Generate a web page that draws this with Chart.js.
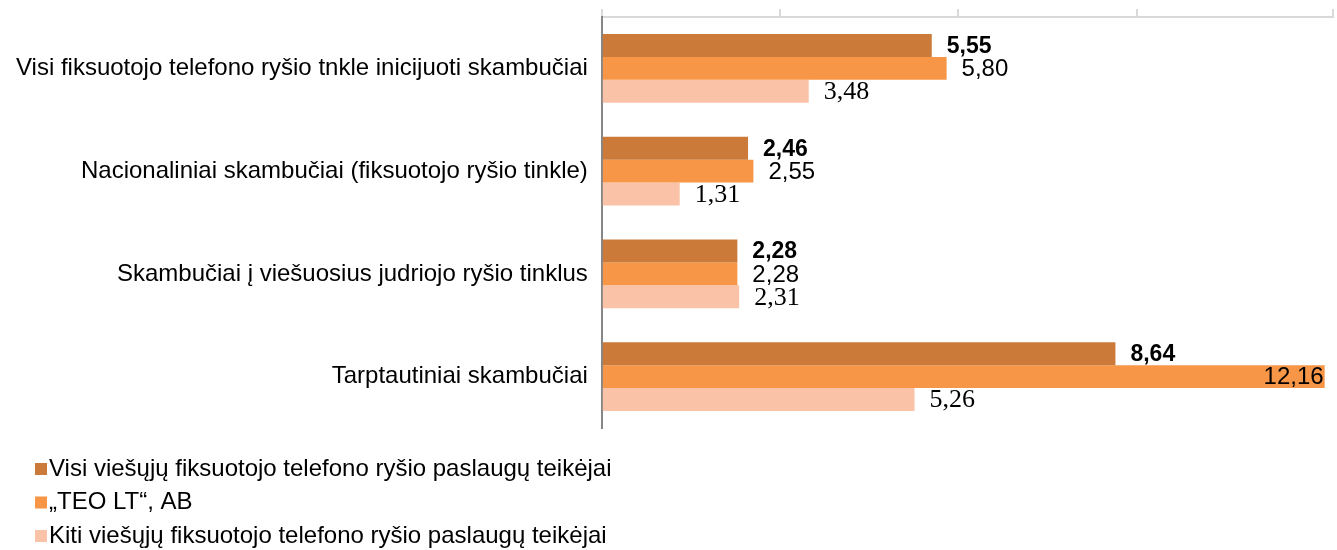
<!DOCTYPE html>
<html lang="lt">
<head>
<meta charset="UTF-8">
<title>Skambučių kainos</title>
<script src="https://cdn.jsdelivr.net/npm/chart.js@4.4.1/dist/chart.umd.min.js"></script>
<style>
  html, body { margin: 0; padding: 0; background: #fff; }
  #wrap { width: 1337px; height: 550px; position: relative; }
</style>
</head>
<body>
<div id="wrap"><canvas id="myChart" width="1337" height="550"></canvas></div>
<script>
// categories (top to bottom)
var categories = [
    'Visi fiksuotojo telefono ryšio tnkle inicijuoti skambučiai',
    'Nacionaliniai skambučiai (fiksuotojo ryšio tinkle)',
    'Skambučiai į viešuosius judriojo ryšio tinklus',
    'Tarptautiniai skambučiai'
];
var seriesNames = [
    'Visi viešųjų fiksuotojo telefono ryšio paslaugų teikėjai',
    '„TEO LT“, AB',
    'Kiti viešųjų fiksuotojo telefono ryšio paslaugų teikėjai'
];
var allProviders = [5.55, 2.46, 2.28, 8.64];
var teo = [5.80, 2.55, 2.28, 12.16];
var others = [3.48, 1.31, 2.31, 5.26];

var colors = ['#CC7A39', '#F79646', '#FAC3A8'];
var labelFonts = [
    'bold 23px "Liberation Sans", Arial, sans-serif',
    '24px "Liberation Sans", Arial, sans-serif',
    '26px "Liberation Serif", "Times New Roman", serif'
];

function fmt(v) {
    return v.toFixed(2).replace('.', ',');
}

// value labels next to each bar end
var valueLabels = {
    id: 'valueLabels',
    afterDatasetsDraw: function(chart) {
        var ctx = chart.ctx;
        var area = chart.chartArea;
        ctx.save();
        ctx.fillStyle = '#000';
        ctx.textBaseline = 'middle';
        chart.data.datasets.forEach(function(ds, i) {
            var meta = chart.getDatasetMeta(i);
            ctx.font = labelFonts[i];
            meta.data.forEach(function(bar, j) {
                var txt = fmt(ds.data[j]);
                var w = ctx.measureText(txt).width;
                if (bar.x + 14 + w > area.right) {
                    ctx.textAlign = 'right';
                    ctx.fillText(txt, bar.x - 1, bar.y + 1);
                } else {
                    ctx.textAlign = 'left';
                    ctx.fillText(txt, bar.x + 15, bar.y + 1);
                }
            });
        });
        ctx.restore();
    }
};

// legend listed one item per row under the plot
var listLegend = {
    id: 'listLegend',
    afterDraw: function(chart) {
        var ctx = chart.ctx;
        ctx.save();
        ctx.font = '24px "Liberation Sans", Arial, sans-serif';
        ctx.textBaseline = 'middle';
        ctx.textAlign = 'left';
        chart.data.datasets.forEach(function(ds, i) {
            var y = 469 + i * 33.5;
            ctx.fillStyle = ds.backgroundColor;
            ctx.fillRect(35, y - 6, 12, 12);
            ctx.fillStyle = '#000';
            ctx.fillText(ds.label, 49, y);
        });
        ctx.restore();
    }
};

var ctx = document.getElementById('myChart').getContext('2d');
var myChart = new Chart(ctx, {
    type: 'bar',
    data: {
        labels: categories,
        datasets: [
            { label: seriesNames[0], data: allProviders, backgroundColor: colors[0] },
            { label: seriesNames[1], data: teo, backgroundColor: colors[1] },
            { label: seriesNames[2], data: others, backgroundColor: colors[2] }
        ]
    },
    options: {
        indexAxis: 'y',
        responsive: false,
        animation: false,
        datasets: {
            bar: { barPercentage: 1, categoryPercentage: 0.67 }
        },
        layout: { padding: { top: 9, right: 4, bottom: 122, left: 2 } },
        plugins: {
            legend: { display: false },
            tooltip: { enabled: false }
        },
        scales: {
            x: {
                position: 'top',
                min: 0,
                max: 12.3,
                ticks: { display: false, stepSize: 3 },
                grid: { drawOnChartArea: false, tickLength: 8, color: '#D9D9D9', lineWidth: 2 },
                border: { color: '#D9D9D9', width: 2 }
            },
            y: {
                ticks: {
                    color: '#000',
                    padding: 14,
                    font: { family: '"Liberation Sans", Arial, sans-serif', size: 24 }
                },
                grid: { display: false, tickLength: 0 },
                border: { color: '#868686', width: 2 },
                // labels sit in the middle of each band, no extra room needed at the ends
                afterFit: function(scale) {
                    scale.paddingTop = 0;
                    scale.paddingBottom = 0;
                }
            }
        }
    },
    plugins: [valueLabels, listLegend]
});
</script>
</body>
</html>
